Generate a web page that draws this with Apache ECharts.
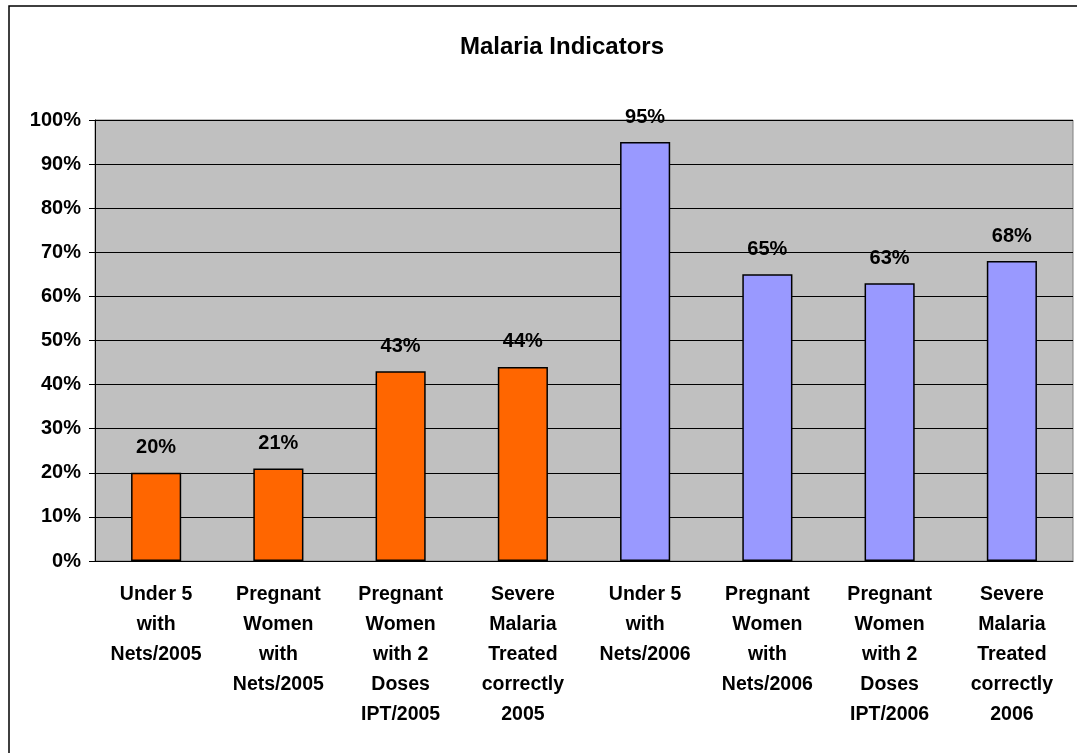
<!DOCTYPE html>
<html>
<head>
<meta charset="utf-8">
<title>Malaria Indicators</title>
<script src="https://cdn.jsdelivr.net/npm/echarts@6/dist/echarts.min.js"></script>
<style>
    html, body { margin: 0; padding: 0; background: #fff; }
    #chart { width: 1077px; height: 753px; }
</style>
</head>
<body>
<div id="chart"></div>
<script>
    var categories = [
        'Under 5\nwith\nNets/2005',
        'Pregnant\nWomen\nwith\nNets/2005',
        'Pregnant\nWomen\nwith 2\nDoses\nIPT/2005',
        'Severe\nMalaria\nTreated\ncorrectly\n2005',
        'Under 5\nwith\nNets/2006',
        'Pregnant\nWomen\nwith\nNets/2006',
        'Pregnant\nWomen\nwith 2\nDoses\nIPT/2006',
        'Severe\nMalaria\nTreated\ncorrectly\n2006'
    ];
    var values2005 = [20, 21, 43, 44];
    var values2006 = [95, 65, 63, 68];
    var yTicks = [0, 10, 20, 30, 40, 50, 60, 70, 80, 90, 100];

    var font = "'Liberation Sans', Arial, sans-serif";

    // each year fills its own half of the category axis
    var data2005 = values2005.concat(values2006.map(function () { return '-'; }));
    var data2006 = values2005.map(function () { return '-'; }).concat(values2006);

    function barSeries(name, data, color) {
        return {
            name: name,
            type: 'bar',
            stack: 'all',
            barWidth: '41%',
            data: data,
            itemStyle: { color: color, borderColor: '#000', borderWidth: 1.5 },
            label: {
                show: true,
                position: 'top',
                distance: 15,
                formatter: '{c}%',
                fontFamily: font,
                fontWeight: 'bold',
                fontSize: 20,
                color: '#000'
            }
        };
    }

    var myChart = echarts.init(document.getElementById('chart'));
    myChart.setOption({
        animation: false,
        title: {
            text: 'Malaria Indicators',
            left: 557,
            top: 30,
            textAlign: 'center',
            textStyle: { fontFamily: font, fontWeight: 'bold', fontSize: 24, color: '#000' }
        },
        graphic: [{
            type: 'rect',
            shape: { x: 9, y: 6, width: 1100, height: 800 },
            style: { fill: 'none', stroke: '#000', lineWidth: 1.5 },
            silent: true
        }],
        grid: {
            left: 95,
            right: 4,
            top: 120,
            bottom: 192,
            show: true,
            backgroundColor: '#C0C0C0',
            borderColor: '#808080',
            borderWidth: 1
        },
        xAxis: {
            type: 'category',
            data: categories,
            axisLine: { lineStyle: { color: '#000', width: 1 } },
            axisTick: { length: 8, lineStyle: { color: '#000' } },
            axisLabel: {
                interval: 0,
                margin: 19,
                lineHeight: 30,
                fontFamily: font,
                fontWeight: 'bold',
                fontSize: 19.5,
                color: '#000'
            }
        },
        yAxis: {
            type: 'value',
            min: yTicks[0],
            max: yTicks[yTicks.length - 1],
            interval: 10,
            axisLine: { show: true, lineStyle: { color: '#000', width: 1 } },
            axisTick: { show: true, length: 6, lineStyle: { color: '#000' } },
            splitLine: { lineStyle: { color: '#000', width: 1 } },
            axisLabel: {
                formatter: '{value}%',
                margin: 14,
                fontFamily: font,
                fontWeight: 'bold',
                fontSize: 20,
                color: '#000'
            }
        },
        series: [
            barSeries('2005', data2005, '#FF6600'),
            barSeries('2006', data2006, '#9999FF')
        ]
    });
</script>
</body>
</html>
